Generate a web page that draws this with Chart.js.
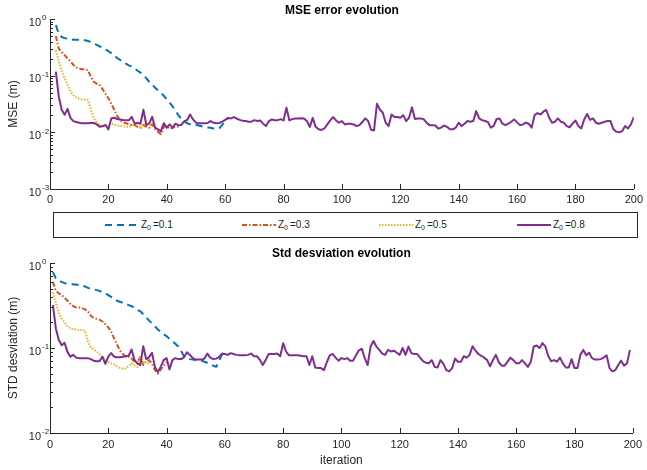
<!DOCTYPE html>
<html><head><meta charset="utf-8">
<script src="https://cdn.jsdelivr.net/npm/chart.js@4/dist/chart.umd.min.js"></script>
<style>
html,body{margin:0;padding:0;background:#fff;}
#wrap{position:relative;width:647px;height:470px;overflow:hidden;font-family:"Liberation Sans",Arial,sans-serif;}
#c1{position:absolute;left:0;top:0;}
#c2{position:absolute;left:0;top:240px;}
#legend{position:absolute;left:53px;top:212px;width:585px;height:26px;border:1px solid #262626;box-sizing:border-box;}
.item{position:absolute;top:0;height:24px;display:flex;align-items:center;font-size:10px;color:#262626;white-space:nowrap;}
.item svg{margin-right:2px;}
.item sub{font-size:7px;vertical-align:-2px;margin-right:2px;}
</style>
</head><body>
<div id="wrap">
<canvas id="c1" width="647" height="208"></canvas>
<div id="legend"></div>
<canvas id="c2" width="647" height="230"></canvas>
</div>
<script>
// ---- data ----
const xTicks = [0, 20, 40, 60, 80, 100, 120, 140, 160, 180, 200];
const mseExponents = [-3, -2, -1, 0];
const stdExponents = [-2, -1, 0];
const seriesValues = ['0.1', '0.3', '0.5', '0.8'];
const seriesColors = ['#0072BD', '#D95319', '#EDB120', '#7E2F8E'];

const mseStart = 2;   // first iteration of the MSE curves
const stdStart = 1;   // first iteration of the STD curves

const mseZ01 = [0.78,0.55,0.48,0.46,0.45,0.44,0.43,0.43,0.43,0.42,0.42,0.41,0.39,0.37,0.35,0.33,0.31,0.29,0.27,0.25,0.23,0.205,0.19,0.177,0.163,0.152,0.145,0.135,0.122,0.113,0.105,0.09,0.078,0.07,0.061,0.055,0.05,0.044,0.038,0.033,0.0286,0.024,0.02,0.0172,0.0155,0.0145,0.0139,0.0137,0.0135,0.0132,0.0128,0.0124,0.0122,0.012,0.0117,0.0115,0.0118,0.0135,0.0155,0.0172];
const mseZ03 = [0.5,0.3,0.26,0.23,0.2,0.18,0.155,0.14,0.133,0.13,0.13,0.125,0.095,0.078,0.072,0.068,0.058,0.048,0.04,0.032,0.025,0.0195,0.0165,0.015,0.0145,0.014,0.0135,0.0135,0.0125,0.012,0.0135,0.0125,0.012,0.014,0.0115,0.0102,0.0093,0.0125,0.013,0.0115,0.012,0.0128,0.0125];
const mseZ05 = [0.28,0.18,0.12,0.09,0.07,0.053,0.045,0.041,0.039,0.038,0.038,0.037,0.025,0.018,0.015,0.0135,0.013,0.0128,0.0135,0.014,0.0138,0.0132,0.013,0.0128,0.0125,0.0125,0.013,0.0145,0.013,0.0125,0.0138,0.014,0.0132,0.0135];
const mseZ08 = [0.118,0.043,0.025,0.0204,0.026,0.018,0.0158,0.0152,0.0148,0.0144,0.0144,0.0144,0.0146,0.0146,0.0138,0.0126,0.0128,0.0135,0.0113,0.0175,
0.0181,0.0172,0.0169,0.0165,0.0163,0.0163,0.0188,0.0142,0.0148,0.0142,0.025,0.0135,0.0142,0.0188,0.0121,0.0113,0.0105,0.0145,0.0121,0.0138,
0.0121,0.0142,0.0133,0.0135,0.0158,0.0165,0.0207,0.0169,0.0148,0.0144,0.0144,0.0144,0.0146,0.0158,0.0148,0.0145,0.0146,0.0154,0.0166,0.018,
0.0176,0.0186,0.0174,0.0166,0.016,0.0158,0.0154,0.0154,0.0164,0.0158,0.0162,0.0142,0.0129,0.0158,0.0169,0.0164,0.0164,0.0171,0.0162,0.0271,
0.0162,0.0171,0.0176,0.0176,0.0178,0.0176,0.0158,0.0125,0.018,0.0125,0.0113,0.011,0.0117,0.0138,0.0162,0.0186,0.0162,0.0148,0.0158,0.0138,
0.0142,0.0142,0.0138,0.0129,0.0134,0.0152,0.0176,0.0158,0.0111,0.0108,0.0319,0.0253,0.0222,0.0148,0.0129,0.0207,0.0186,0.0186,0.0181,0.0201,
0.0158,0.0181,0.0276,0.0172,0.0176,0.0176,0.0171,0.0148,0.0134,0.0134,0.0132,0.0116,0.0121,0.0132,0.0125,0.0113,0.0113,0.0121,0.0148,0.0129,
0.0142,0.0158,0.0154,0.0158,0.0237,0.0176,0.0164,0.0158,0.0152,0.0121,0.013,0.0172,0.0176,0.0142,0.0134,0.0142,0.0154,0.0169,0.015,0.0134,
0.0138,0.0148,0.0142,0.0121,0.0201,0.0218,0.0207,0.0231,0.0248,0.0181,0.0148,0.0154,0.0176,0.0154,0.0148,0.0129,0.0123,0.0142,0.0162,0.0129,
0.0117,0.0169,0.0211,0.0166,0.0176,0.0148,0.0142,0.0148,0.0154,0.0158,0.0158,0.0113,0.0103,0.01,0.0105,0.0129,0.0117,0.0138,0.0186];

const stdZ01 = [0.78,0.66,0.62,0.6,0.58,0.57,0.57,0.56,0.56,0.55,0.54,0.53,0.51,0.5,0.49,0.48,0.47,0.45,0.44,0.42,0.4,0.38,0.36,0.35,0.34,0.33,0.32,0.31,0.3,0.28,0.27,0.25,0.23,0.21,0.195,0.18,0.165,0.155,0.145,0.138,0.128,0.12,0.112,0.104,0.092,0.08,0.076,0.074,0.073,0.072,0.072,0.071,0.069,0.067,0.064,0.062,0.06,0.07,0.084,0.085];
const stdZ03 = [0.6,0.47,0.44,0.42,0.39,0.36,0.33,0.31,0.3,0.3,0.295,0.285,0.27,0.24,0.225,0.22,0.215,0.205,0.19,0.175,0.155,0.13,0.11,0.093,0.085,0.079,0.079,0.075,0.069,0.066,0.08,0.063,0.07,0.072,0.065,0.055,0.05,0.056,0.062,0.068];
const stdZ05 = [0.45,0.34,0.26,0.22,0.2,0.18,0.17,0.167,0.165,0.163,0.162,0.16,0.12,0.102,0.096,0.091,0.085,0.078,0.072,0.069,0.066,0.064,0.061,0.058,0.057,0.058,0.062,0.066,0.062,0.06,0.08,0.066,0.068,0.065];
const stdZ08 = [0.32,0.17,0.125,0.108,0.115,0.09,0.079,0.083,0.077,0.076,0.076,0.076,0.076,0.074,0.071,0.07,0.07,0.079,0.065,0.079,
0.087,0.079,0.078,0.078,0.079,0.08,0.081,0.096,0.072,0.066,0.063,0.105,0.074,0.078,0.088,0.06,0.052,0.06,0.072,0.076,
0.056,0.072,0.076,0.074,0.074,0.078,0.089,0.083,0.076,0.073,0.073,0.073,0.075,0.086,0.077,0.074,0.075,0.078,0.086,0.085,
0.083,0.087,0.085,0.083,0.082,0.082,0.082,0.083,0.086,0.08,0.08,0.073,0.063,0.072,0.085,0.085,0.085,0.086,0.08,0.114,
0.091,0.082,0.082,0.082,0.082,0.081,0.08,0.08,0.063,0.08,0.059,0.058,0.058,0.055,0.068,0.082,0.085,0.077,0.071,0.076,
0.074,0.076,0.071,0.071,0.082,0.094,0.098,0.076,0.063,0.104,0.121,0.104,0.095,0.086,0.083,0.095,0.091,0.093,0.088,0.083,
0.1,0.083,0.104,0.087,0.085,0.085,0.077,0.07,0.067,0.066,0.072,0.06,0.059,0.072,0.065,0.055,0.053,0.058,0.075,0.069,
0.069,0.08,0.077,0.083,0.105,0.093,0.085,0.081,0.077,0.072,0.061,0.072,0.083,0.068,0.062,0.062,0.069,0.077,0.072,0.066,
0.066,0.072,0.066,0.06,0.069,0.104,0.107,0.1,0.114,0.104,0.08,0.07,0.072,0.069,0.077,0.066,0.059,0.059,0.074,0.058,
0.058,0.083,0.095,0.082,0.088,0.076,0.073,0.073,0.074,0.077,0.082,0.058,0.053,0.055,0.063,0.071,0.062,0.066,0.095];

// ---- styles ----
const dashes = [[7,5],[5,2,1.5,2],[1.5,1.5],[]];
const FONT = '"Liberation Sans", Arial, sans-serif';
const AX = '#262626';

function pts(arr, start){ return arr.map((v,i)=>({x:start+i, y:v})); }

function makeDatasets(list, start){
  return list.map((arr,i)=>({
    label: 'Z0 =' + seriesValues[i],
    data: pts(arr, start),
    borderColor: seriesColors[i],
    backgroundColor: seriesColors[i],
    borderWidth: 2,
    borderDash: dashes[i],
    borderCapStyle: 'butt',
    borderJoinStyle: 'round',
    pointRadius: 0,
    tension: 0,
    fill: false,
    order: 3 - i
  }));
}

const axisDeco = {
  id: 'axisDeco',
  afterDraw(chart){
    const {ctx, chartArea:a, scales:{x,y}} = chart;
    const exps = chart.options.plugins.axisDeco.exponents;
    ctx.save();
    ctx.strokeStyle = AX; ctx.lineWidth = 1;
    ctx.beginPath();
    xTicks.forEach(v=>{
      const px = Math.round(x.getPixelForValue(v)) + 0.5;
      ctx.moveTo(px, a.bottom); ctx.lineTo(px, a.bottom - 5);
    });
    exps.forEach((e,idx)=>{
      const py = Math.round(y.getPixelForValue(Math.pow(10,e))) + 0.5;
      ctx.moveTo(a.left, py); ctx.lineTo(a.left + 5, py);
      if (idx < exps.length - 1){
        for (let m=2;m<=9;m++){
          const pm = Math.round(y.getPixelForValue(m*Math.pow(10,e))) + 0.5;
          ctx.moveTo(a.left, pm); ctx.lineTo(a.left + 3, pm);
        }
      }
    });
    ctx.stroke();
    ctx.fillStyle = AX;
    exps.forEach(e=>{
      const py = y.getPixelForValue(Math.pow(10,e));
      ctx.font = '11px ' + FONT; ctx.textAlign = 'right'; ctx.textBaseline = 'middle';
      ctx.fillText('10', a.left - 9, py + 3.5);
      ctx.font = '8px ' + FONT; ctx.textAlign = 'left';
      ctx.fillText(String(e), a.left - 8, py - 1);
    });
    ctx.restore();
  }
};

function makeChart(id, datasets, opts){
  return new Chart(document.getElementById(id), {
    type: 'line',
    data: { datasets },
    plugins: [axisDeco],
    options: {
      responsive: false, devicePixelRatio: 1, animation: false,
      layout: { padding: { left: 0, right: 10, top: 0, bottom: 0 } },
      plugins: {
        legend: { display: false }, tooltip: { enabled: false },
        title: { display: true, text: opts.title, fullSize: false, color: '#000',
                 font: { family: FONT, size: 12, weight: 'bold' }, padding: opts.titlePad },
        axisDeco: { exponents: opts.exponents }
      },
      scales: {
        x: {
          type: 'linear', min: 0, max: 200,
          afterBuildTicks: s => { s.ticks = xTicks.map(v=>({value:v})); },
          afterFit: s => { s.height = opts.xHeight; },
          grid: { display: false, drawTicks: false },
          border: { display: true, color: AX, width: 1 },
          ticks: { color: AX, font: { family: FONT, size: 11 }, padding: opts.xPad, maxRotation: 0 },
          title: { display: !!opts.xTitle, text: opts.xTitle || '', color: AX, font: { family: FONT, size: 12 }, padding: { top: 0, bottom: 2 } }
        },
        y: {
          type: 'logarithmic', min: Math.pow(10, opts.exponents[0]), max: Math.pow(10, opts.exponents[opts.exponents.length-1]),
          afterFit: s => { s.width = 50; },
          grid: { display: false, drawTicks: false },
          border: { display: true, color: AX, width: 1 },
          ticks: { display: false },
          title: { display: true, text: opts.yTitle, color: AX, font: { family: FONT, size: 12 }, padding: { top: 6, bottom: 0 } }
        }
      }
    }
  });
}

makeChart('c1', makeDatasets([mseZ01, mseZ03, mseZ05, mseZ08], mseStart), {
  title: 'MSE error evolution', titlePad: { top: 3, bottom: 1.6 },
  exponents: mseExponents, xHeight: 19, xPad: 4, yTitle: 'MSE (m)'
});
makeChart('c2', makeDatasets([stdZ01, stdZ03, stdZ05, stdZ08], stdStart), {
  title: 'Std desviation evolution', titlePad: { top: 6, bottom: 2.6 },
  exponents: stdExponents, xHeight: 37, xPad: 5, yTitle: 'STD desviation (m)', xTitle: 'iteration'
});

// ---- legend (HTML, for the subscript) ----
const legendPos = [51, 188, 325, 463];
const lg = document.getElementById('legend');
seriesValues.forEach((val,i)=>{
  const it = document.createElement('div');
  it.className = 'item';
  it.style.left = legendPos[i] + 'px';
  const d = dashes[i].length ? ' stroke-dasharray="' + dashes[i].join(',') + '"' : '';
  it.innerHTML = '<svg width="34" height="6"><line x1="0" y1="3" x2="34" y2="3" stroke="' + seriesColors[i] +
    '" stroke-width="2"' + d + '/></svg><span>Z<sub>0</sub>=' + val + '</span>';
  lg.appendChild(it);
});
</script>
</body></html>
